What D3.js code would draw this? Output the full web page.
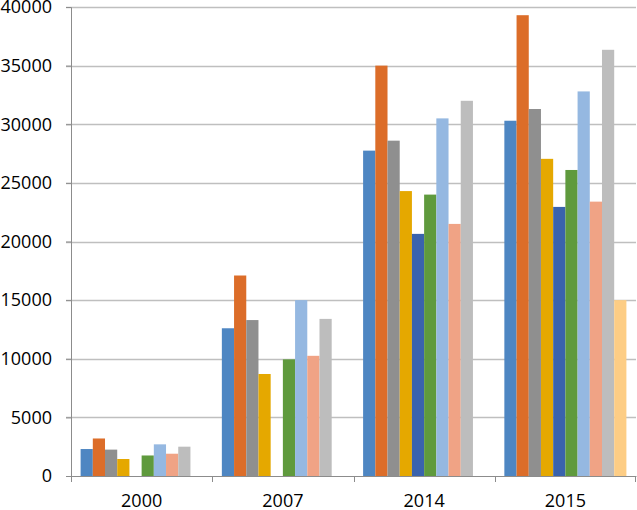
<!DOCTYPE html>
<html>
<head>
<meta charset="utf-8">
<script src="https://cdn.jsdelivr.net/npm/d3@7"></script>
<style>
  html, body { margin: 0; padding: 0; background: #fff; }
  svg { display: block; }
  text { font-family: "Open Sans", sans-serif; }
</style>
</head>
<body>
<svg id="chart" width="637" height="510"></svg>
<script>
const categories = ["2000", "2007", "2014", "2015"];
const seriesNames = ["S1", "S2", "S3", "S4", "S5", "S6", "S7", "S8", "S9", "S10"];
const s1  = [2300, 12600, 27750, 30300];
const s2  = [3200, 17100, 35000, 39300];
const s3  = [2250, 13300, 28600, 31300];
const s4  = [1450, 8700, 24300, 27050];
const s5  = [0, 0, 20650, 22950];
const s6  = [1750, 9950, 24000, 26100];
const s7  = [2700, 15000, 30500, 32800];
const s8  = [1900, 10250, 21500, 23400];
const s9  = [2500, 13400, 32000, 36350];
const s10 = [0, 0, 0, 15000];
const yTicks = [0, 5000, 10000, 15000, 20000, 25000, 30000, 35000, 40000];
const colors = ["#4e86c2", "#dc6d29", "#8f8f8f", "#e5a800", "#3a63ad", "#5f9a3d", "#95b8e1", "#f0a385", "#bdbdbd", "#fdcd85"];

const seriesValues = [s1, s2, s3, s4, s5, s6, s7, s8, s9, s10];

const margin = { left: 71, right: 1, top: 7, bottom: 34 };
const W = 637, H = 510;
const width = W - margin.left - margin.right;
const height = H - margin.top - margin.bottom;

const svg = d3.select("#chart");
const g = svg.append("g").attr("transform", `translate(${margin.left},${margin.top})`);

const x0 = d3.scaleBand().domain(categories).range([0, width]).paddingInner(0).paddingOuter(0);
const bw = x0.bandwidth();
const pad = bw * 0.068;
const x1 = d3.scaleBand().domain(seriesNames).range([pad, bw - pad]).padding(0);
const y = d3.scaleLinear().domain([0, 40000]).range([height, 0]);

// gridlines
g.append("g").selectAll("line").data(yTicks.filter(t => t > 0)).join("line")
  .attr("x1", -5).attr("x2", width)
  .attr("y1", d => Math.round(y(d)) + 0.5).attr("y2", d => Math.round(y(d)) + 0.5)
  .attr("stroke", "#bfbfbf").attr("stroke-width", 1.3);

// bars
const groups = g.append("g").selectAll("g").data(categories).join("g")
  .attr("transform", d => `translate(${x0(d)},0)`);
groups.selectAll("rect")
  .data((c, ci) => seriesNames.map((s, si) => ({ s, si, v: seriesValues[si][ci] })))
  .join("rect")
  .attr("x", d => x1(d.s))
  .attr("width", x1.bandwidth())
  .attr("y", d => y(d.v))
  .attr("height", d => y(0) - y(d.v))
  .attr("fill", d => colors[d.si]);

// y axis
const yAxis = d3.axisLeft(y).tickValues(yTicks).tickSize(5).tickPadding(14).tickFormat(d3.format("d"));
const ya = g.append("g").call(yAxis);
ya.select(".domain").attr("stroke", "#8c8c8c");
ya.selectAll(".tick line").attr("stroke", "#8c8c8c");
ya.selectAll("text").attr("font-size", 18).attr("fill", "#000").attr("font-family", "'Open Sans', sans-serif");

// x axis
const xAxis = d3.axisBottom(x0).tickSize(0).tickPadding(18);
const xa = g.append("g").attr("transform", `translate(0,${height})`).call(xAxis);
xa.select(".domain").attr("stroke", "#8c8c8c");
xa.selectAll("text").attr("font-size", 18).attr("fill", "#000").attr("font-family", "'Open Sans', sans-serif");
// category boundary ticks
const bounds = categories.map(c => x0(c)).concat([width]);
xa.append("g").selectAll("line").data(bounds).join("line")
  .attr("x1", d => Math.min(Math.round(d) + 0.5, width - 0.5)).attr("x2", d => Math.min(Math.round(d) + 0.5, width - 0.5))
  .attr("y1", 0).attr("y2", 6).attr("stroke", "#8c8c8c");
</script>
</body>
</html>
